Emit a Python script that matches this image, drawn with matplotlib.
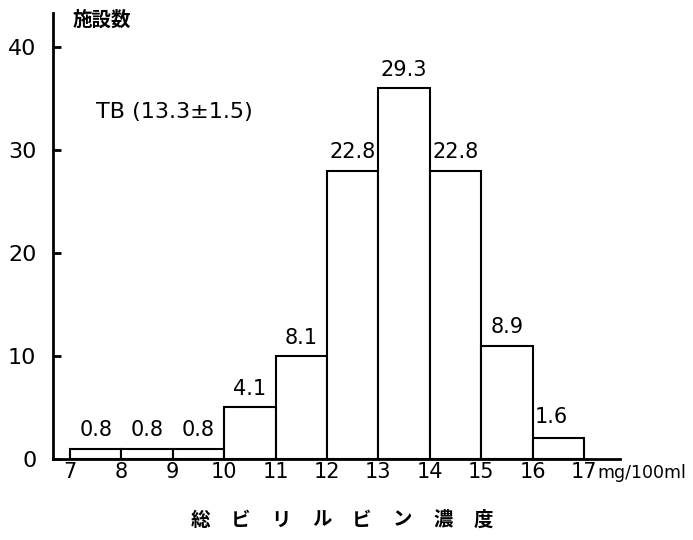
import matplotlib
matplotlib.use("Agg")
import matplotlib.pyplot as plt
import numpy as np

# bilirubin concentration bins (mg/100ml), facility counts and percentages
bin_left = [7, 8, 9, 10, 11, 12, 13, 14, 15, 16]
counts = [1, 1, 1, 5, 10, 28, 36, 28, 11, 2]
percent = ["0.8", "0.8", "0.8", "4.1", "8.1", "22.8", "29.3", "22.8", "8.9", "1.6"]
x_ticks = list(range(7, 18))
y_ticks = [0, 10, 20, 30, 40]
x_title = "総ビリルビン濃度"

plt.rcParams['font.family'] = ['DejaVu Sans', 'Noto Sans CJK JP']

fig = plt.figure(figsize=(6.93, 5.4), dpi=100)
ax = fig.add_axes([0.0765, 0.15, 0.818, 0.826])

ax.bar(bin_left, counts, width=1, align='edge', color='white',
       edgecolor='black', linewidth=1.5, zorder=3)

for x, c, p in zip(bin_left, counts, percent):
    if p == "1.6":
        ax.text(x + 0.05, c + 1.1, p, ha='left', va='bottom', fontsize=15)
    else:
        ax.text(x + 0.5, c + 0.8, p, ha='center', va='bottom', fontsize=15)

ax.set_xlim(6.67, 17.7)
ax.set_ylim(0, 43.3)

ax.spines['top'].set_visible(False)
ax.spines['right'].set_visible(False)
ax.spines['left'].set_linewidth(2)
ax.spines['bottom'].set_linewidth(2)

ax.set_yticks(y_ticks)
ax.set_yticklabels([str(v) for v in y_ticks], fontsize=16)
ax.yaxis.set_tick_params(direction='in', length=6, width=2, pad=12)

ax.set_xticks(x_ticks)
ax.set_xticklabels([str(v) for v in x_ticks], fontsize=15)
ax.xaxis.set_tick_params(length=0, pad=2)

ax.text(17.27, -0.45, "mg/100ml", ha='left', va='top', fontsize=12.5)

ax.text(0.034, 1.005, "施設数", transform=ax.transAxes, ha='left', va='top',
        fontsize=14, fontweight='bold', family='Noto Sans CJK JP')
ax.text(7.5, 33.7, "TB (13.3±1.5)", ha='left', va='center', fontsize=16)

# spaced-out axis title, one character at a time
for i, ch in enumerate(x_title):
    fig.text((200 + i * 40.5) / 693, 0.037, ch, ha='center', va='center',
             fontsize=14, fontweight='bold', family='Noto Sans CJK JP')

fig.savefig("out.png", dpi=100, facecolor='white')
